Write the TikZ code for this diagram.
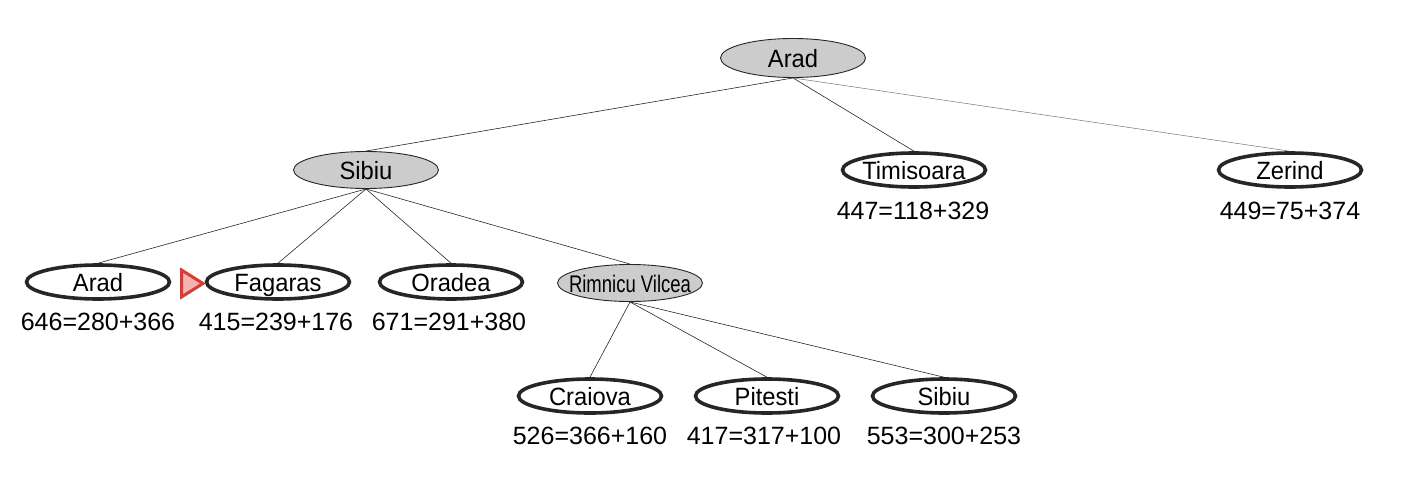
\documentclass[tikz,border=0pt]{standalone}
\usepackage{fontspec}
\setmainfont{Liberation Sans}
\usetikzlibrary{shapes.geometric}
\definecolor{nodegray}{RGB}{204,204,204}
\definecolor{markred}{RGB}{222,58,52}
\definecolor{markpink}{RGB}{242,180,178}
\newcommand{\nb}[1]{\makebox[0pt]{\scalebox{0.95}[1]{#1}}}
\tikzset{
  basenode/.style={ellipse, inner sep=0pt, text height=18pt, text depth=0pt, font=\fontsize{25}{28}\selectfont},
  expanded/.style={basenode, draw=black!85, fill=nodegray, line width=0.9pt, minimum width=145pt, minimum height=39pt},
  leaf/.style={basenode, draw=black!85, line width=3.6pt, minimum width=143pt, minimum height=34pt},
  cost/.style={inner sep=0pt, font=\fontsize{25}{28}\selectfont},
  edge/.style={line width=0.6pt, draw=black!85},
  faint/.style={line width=0.5pt, draw=black!55}
}
\begin{document}
\begin{tikzpicture}[x=1pt,y=-1pt]
\useasboundingbox (0,0) rectangle (1428,498);
% level 1
\node[expanded] (arad0) at (793,58) {\nb{Arad}};
% level 2
\node[expanded, minimum height=37pt] (sibiu1) at (366,170) {\nb{Sibiu}};
\node[leaf] (timi) at (914,170) {\nb{Timisoara}};
\node[leaf] (zer) at (1290,170) {\nb{Zerind}};
\node[cost] (timic) at (913,211) {447=118+329};
\node[cost] (zerc) at (1290,211) {449=75+374};
% level 3
\node[leaf] (arad2) at (98,282) {\nb{Arad}};
\node[leaf] (fag) at (278,282) {\nb{Fagaras}};
\node[leaf] (ora) at (451,282) {\nb{Oradea}};
\node[expanded, minimum height=37pt] (rim) at (630,283) {\makebox[0pt]{\scalebox{0.74}[0.96]{Rimnicu Vilcea}}};
\node[cost] (arad2c) at (98,322) {646=280+366};
\node[cost] (fagc) at (276,322) {415=239+176};
\node[cost] (orac) at (449,322) {671=291+380};
% level 4
\node[leaf] (cra) at (590,396) {\nb{Craiova}};
\node[leaf] (pit) at (767,396) {\nb{Pitesti}};
\node[leaf] (sib3) at (944,396) {\nb{Sibiu}};
\node[cost] (crac) at (590,436) {526=366+160};
\node[cost] (pitc) at (764,436) {417=317+100};
\node[cost] (sib3c) at (944,436) {553=300+253};
% edges
\draw[edge] (arad0.south) -- (sibiu1.north);
\draw[edge] (arad0.south) -- (timi.north);
\draw[faint] (arad0.south) -- (zer.north);
\draw[edge] (sibiu1.south) -- (arad2.north);
\draw[edge] (sibiu1.south) -- (fag.north);
\draw[edge] (sibiu1.south) -- (ora.north);
\draw[edge] (sibiu1.south) -- (rim.north);
\draw[edge] (rim.south) -- (cra.north);
\draw[edge] (rim.south) -- (pit.north);
\draw[edge] (rim.south) -- (sib3.north);
% marker
\coordinate (m1) at (181.5,270);
\coordinate (m2) at (181.5,297);
\coordinate (m3) at (203,283.5);
\draw[markred, fill=markpink, line width=3pt, line join=miter] (m1) -- (m3) -- (m2) -- cycle;
\end{tikzpicture}
\end{document}
